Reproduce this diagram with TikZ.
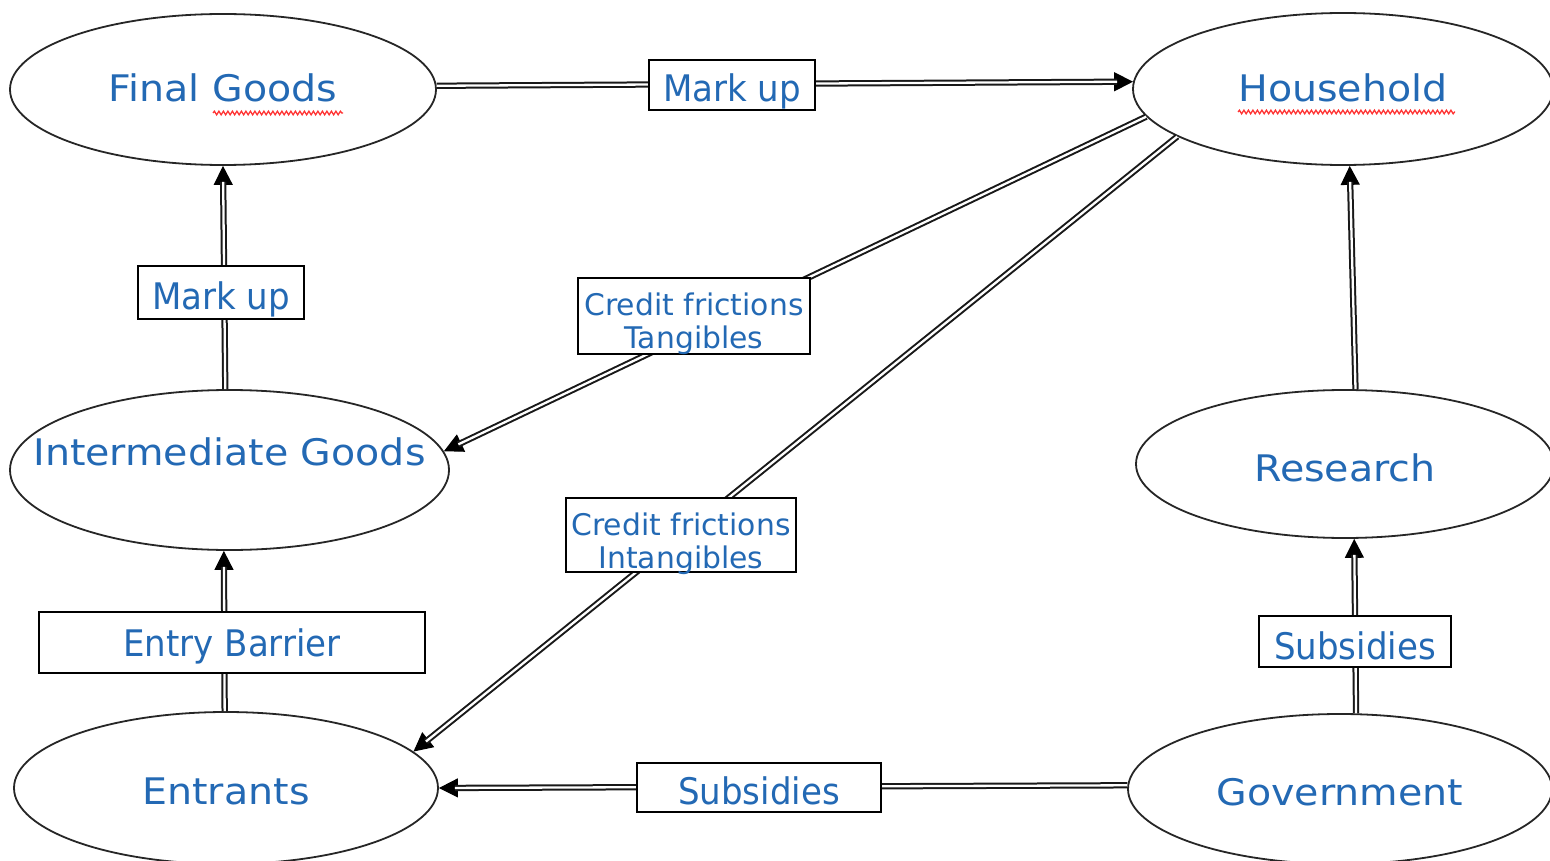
\documentclass[tikz,border=0pt]{standalone}
\usepackage{fontspec}
\setmainfont{DejaVu Sans}
\newfontfamily\ellfont{DejaVu Sans}[FakeStretch=1.08]
\newfontfamily\boxfont{DejaVu Sans}[FakeStretch=0.93]
\newfontfamily\credfont{DejaVu Sans}
\usetikzlibrary{arrows.meta,shapes.geometric,decorations.pathmorphing}
\definecolor{txtblue}{RGB}{35,105,180}
\newcommand\ellabel[2]{\raisebox{#1}[0pt][0pt]{\makebox[0pt]{#2}}}
\newcommand\credlabel[3]{\raisebox{#1}[0pt][0pt]{\makebox[0pt]{\begin{tabular}[t]{@{}c@{}}#2\\#3\end{tabular}}}}
\newcommand\linkarrow[2]{\draw[tipln] #1 -- #2; \draw[dbl] #1 -- #2;}
\begin{document}
\begin{tikzpicture}[x=1pt,y=-1pt,
  ell/.style={ellipse, draw=black!85, line width=1.8pt, inner sep=0pt, text=txtblue,
    font=\ellfont\fontsize{36.6}{44}\selectfont},
  lbox/.style={rectangle, draw=black, line width=2pt, fill=white, inner sep=0pt, text=txtblue,
    font=\boxfont\fontsize{36.6}{44}\selectfont},
  cbox/.style={lbox, font=\credfont\fontsize{29.8}{33.4}\selectfont},
  dbl/.style={draw=black!90, double=white, line width=2pt, double distance=2.3pt, shorten >=16pt},
  tipln/.style={draw=black, line width=1.2pt, -{Triangle[length=19pt,width=19pt]}},
  wavy/.style={draw=red!80, line width=1.3pt, decorate, decoration={snake, amplitude=1.8pt, segment length=4.5pt}}
]
\useasboundingbox (0,0) rectangle (1550,861);
\clip (0,0) rectangle (1550,861);
\fill[white] (0,0) rectangle (1550,861);

% ellipses
\node[ell, minimum width=426pt, minimum height=151pt] (fg) at (223,89.5) {\ellabel{-12.2pt}{Final Goods}};
\node[ell, minimum width=420pt, minimum height=152pt] (hh) at (1343,89) {\ellabel{-13pt}{Household}};
\node[ell, minimum width=439pt, minimum height=160pt] (ig) at (229.5,470) {\ellabel{5pt}{Intermediate Goods}};
\node[ell, minimum width=418pt, minimum height=148pt] (rs) at (1345,464) {\ellabel{-17pt}{Research}};
\node[ell, minimum width=424pt, minimum height=152pt] (en) at (226,788) {\ellabel{-16pt}{Entrants}};
\node[ell, minimum width=424pt, minimum height=150pt] (gv) at (1340,789) {\ellabel{-16pt}{Government}};

% spell-check underlines
\draw[wavy] (213,113) -- (343,113);
\draw[wavy] (1238,112) -- (1455,112);

% connectors
\linkarrow{(fg.1.2)}{(hh.178.9)}
\linkarrow{(ig.93.9)}{(fg.270.8)}
\linkarrow{(hh.188.1)}{(ig.5.9)}
\linkarrow{(hh.196.9)}{(en.11.5)}
\linkarrow{(en.91.5)}{(ig.266.1)}
\linkarrow{(rs.82.3)}{(hh.275.3)}
\linkarrow{(gv.78.7)}{(rs.277.7)}
\linkarrow{(gv.179.7)}{(en.0.5)}

% label boxes
\node[lbox, minimum width=166pt, minimum height=50pt] (mu1) at (732,85) {\ellabel{-16.7pt}{Mark up}};
\node[lbox, minimum width=166pt, minimum height=53pt] (mu2) at (221,292.5) {\ellabel{-17pt}{Mark up}};
\node[cbox, minimum width=232pt, minimum height=76pt] (ct) at (694,316) {\credlabel{1pt}{Credit frictions}{Tangibles}};
\node[cbox, minimum width=230pt, minimum height=74pt] (ci) at (681,535) {\credlabel{0pt}{Credit frictions}{Intangibles}};
\node[lbox, minimum width=386pt, minimum height=61pt] (eb) at (232,642.5) {\ellabel{-13.5pt}{Entry Barrier}};
\node[lbox, minimum width=192pt, minimum height=51pt] (sr) at (1355,641.5) {\ellabel{-18pt}{Subsidies}};
\node[lbox, minimum width=244pt, minimum height=49pt] (sb) at (759,787.5) {\ellabel{-17pt}{Subsidies}};
\end{tikzpicture}
\end{document}
